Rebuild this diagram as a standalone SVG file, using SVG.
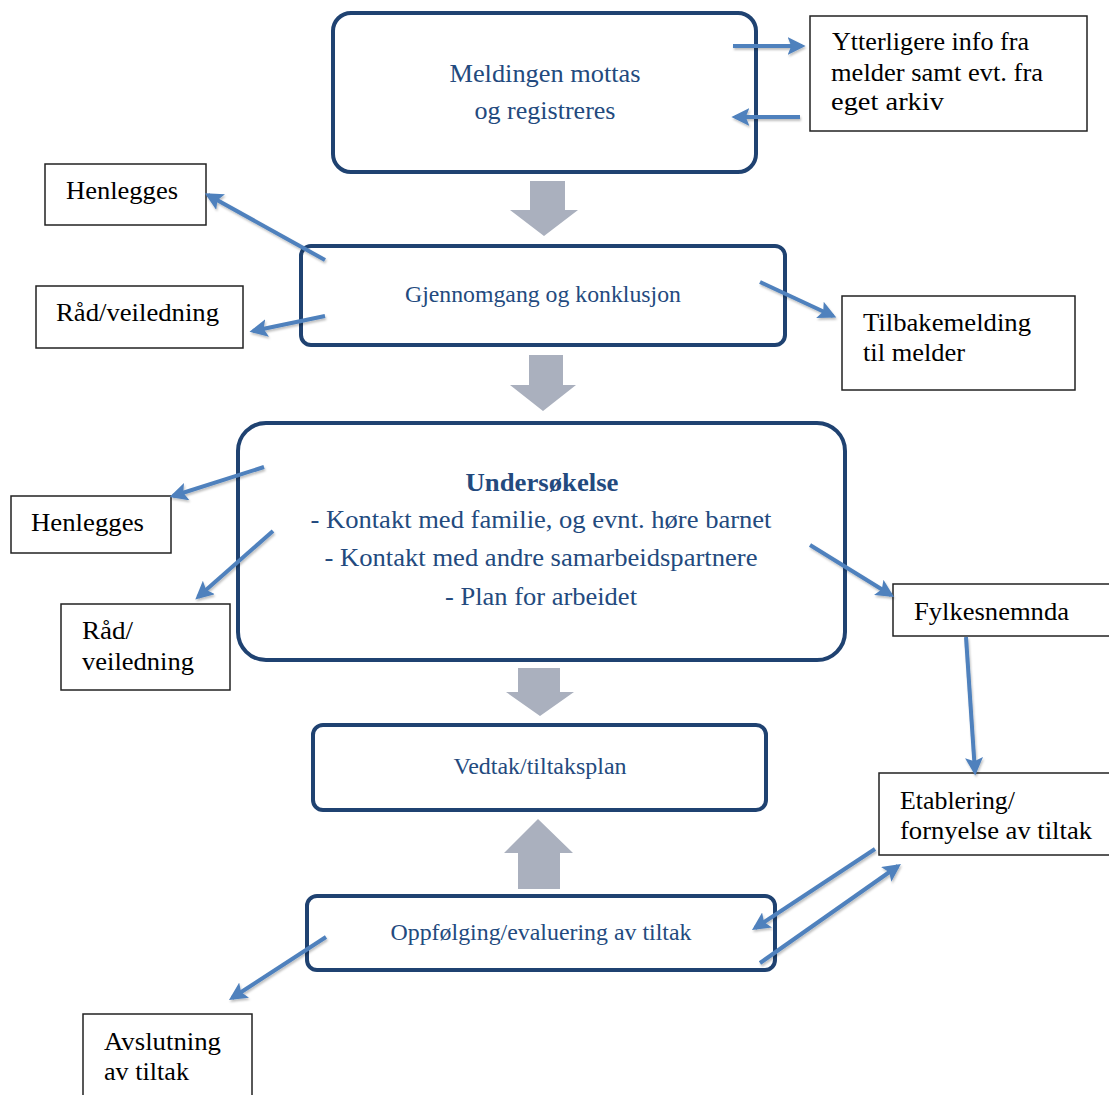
<svg xmlns="http://www.w3.org/2000/svg" width="1109" height="1095" viewBox="0 0 1109 1095">
<defs>
<style>
.main{fill:#fff;stroke:#1f4271;stroke-width:4}
.side{fill:#fff;stroke:#222;stroke-width:1.5}
text{font-family:"Liberation Serif","Tinos","Times New Roman","Noto Serif","DejaVu Serif","FreeSerif",serif}
.mt{fill:#234a7e;text-anchor:middle}
.st{fill:#000;font-size:26px}
.con{stroke:#4f81bd;stroke-width:4;fill:none;marker-end:url(#ah);filter:url(#sh)}
.gray{fill:#aab0be}
</style>
<marker id="ah" viewBox="0 0 10 10" refX="8" refY="5" markerWidth="4.5" markerHeight="4.5" orient="auto" markerUnits="strokeWidth">
<path d="M0,0 L10,5 L0,10 L2,5 z" fill="#4f81bd"/>
</marker>
<filter id="sh" filterUnits="userSpaceOnUse" x="0" y="0" width="1109" height="1095">
<feDropShadow dx="1" dy="2" stdDeviation="1.2" flood-color="#000" flood-opacity="0.25"/>
</filter>
</defs>

<g id="n1">
<rect class="main" x="333" y="13" width="423" height="159" rx="18"/>
<text class="mt" x="545" y="82" font-size="26" textLength="191" lengthAdjust="spacingAndGlyphs">Meldingen mottas</text>
<text class="mt" x="545" y="119" font-size="26" textLength="141" lengthAdjust="spacingAndGlyphs">og registreres</text>
</g>
<g id="n2">
<rect class="main" x="301" y="246" width="484" height="99" rx="10"/>
<text class="mt" x="543" y="302" font-size="23" textLength="276" lengthAdjust="spacingAndGlyphs">Gjennomgang  og konklusjon</text>
</g>
<g id="n3">
<rect class="main" x="238" y="423" width="607" height="237" rx="28"/>
<text class="mt" x="542" y="491" font-size="25" font-weight="bold" textLength="153" lengthAdjust="spacingAndGlyphs">Undersøkelse</text>
<text class="mt" x="541" y="528" font-size="26" textLength="461" lengthAdjust="spacingAndGlyphs">- Kontakt med familie, og evnt. høre barnet</text>
<text class="mt" x="541" y="566" font-size="26" textLength="433" lengthAdjust="spacingAndGlyphs">- Kontakt med andre samarbeidspartnere</text>
<text class="mt" x="541" y="605" font-size="26" textLength="192" lengthAdjust="spacingAndGlyphs">- Plan for arbeidet</text>
</g>
<g id="n4">
<rect class="main" x="313" y="725" width="453" height="85" rx="10"/>
<text class="mt" x="540" y="774" font-size="23" textLength="173" lengthAdjust="spacingAndGlyphs">Vedtak/tiltaksplan</text>
</g>
<g id="n5">
<rect class="main" x="307" y="896" width="468" height="74" rx="10"/>
<text class="mt" x="541" y="940" font-size="23" textLength="301" lengthAdjust="spacingAndGlyphs">Oppfølging/evaluering  av tiltak</text>
</g>

<g id="s1">
<rect class="side" x="810" y="16" width="277" height="115"/>
<text class="st" x="832" y="50" textLength="197" lengthAdjust="spacingAndGlyphs">Ytterligere info fra</text>
<text class="st" x="831" y="81" textLength="212" lengthAdjust="spacingAndGlyphs">melder samt evt. fra</text>
<text class="st" x="831" y="110" textLength="113" lengthAdjust="spacingAndGlyphs">eget arkiv</text>
</g>
<g id="s2">
<rect class="side" x="45" y="164" width="161" height="61"/>
<text class="st" x="66" y="199" textLength="112" lengthAdjust="spacingAndGlyphs">Henlegges</text>
</g>
<g id="s3">
<rect class="side" x="36" y="286" width="207" height="62"/>
<text class="st" x="56" y="321" textLength="163" lengthAdjust="spacingAndGlyphs">Råd/veiledning</text>
</g>
<g id="s4">
<rect class="side" x="842" y="296" width="233" height="94"/>
<text class="st" x="863" y="331" textLength="168" lengthAdjust="spacingAndGlyphs">Tilbakemelding</text>
<text class="st" x="863" y="361" textLength="102" lengthAdjust="spacingAndGlyphs">til melder</text>
</g>
<g id="s5">
<rect class="side" x="11" y="496" width="160" height="57"/>
<text class="st" x="31" y="531" textLength="113" lengthAdjust="spacingAndGlyphs">Henlegges</text>
</g>
<g id="s6">
<rect class="side" x="61" y="604" width="169" height="86"/>
<text class="st" x="82" y="639" textLength="51" lengthAdjust="spacingAndGlyphs">Råd/</text>
<text class="st" x="82" y="670" textLength="112" lengthAdjust="spacingAndGlyphs">veiledning</text>
</g>
<g id="s7">
<rect class="side" x="893" y="584" width="220" height="52"/>
<text class="st" x="914" y="620" textLength="155" lengthAdjust="spacingAndGlyphs">Fylkesnemnda</text>
</g>
<g id="s8">
<rect class="side" x="879" y="773" width="234" height="82"/>
<text class="st" x="900" y="809" textLength="115" lengthAdjust="spacingAndGlyphs">Etablering/</text>
<text class="st" x="900" y="839" textLength="192" lengthAdjust="spacingAndGlyphs">fornyelse av tiltak</text>
</g>
<g id="s9">
<rect class="side" x="83" y="1014" width="169" height="90"/>
<text class="st" x="104" y="1050" textLength="117" lengthAdjust="spacingAndGlyphs">Avslutning</text>
<text class="st" x="104" y="1080" textLength="85" lengthAdjust="spacingAndGlyphs">av tiltak</text>
</g>

<g id="connectors">
<path class="gray" d="M530,181 H565 V210 H578 L544,236 L510,210 H530 Z"/>
<path class="gray" d="M529,355 H563 V385 H576 L543,411 L510,385 H529 Z"/>
<path class="gray" d="M518,668 H560 V692 H574 L540,716 L506,692 H518 Z"/>
<path class="gray" d="M518,889 H560 V853 H573 L538,819 L504,853 H518 Z"/>
<line class="con" x1="733" y1="46" x2="802" y2="46"/>
<line class="con" x1="800" y1="117" x2="735" y2="117"/>
<line class="con" x1="325" y1="260" x2="208" y2="195"/>
<line class="con" x1="325" y1="316" x2="253" y2="331"/>
<line class="con" x1="760" y1="282" x2="833" y2="316"/>
<line class="con" x1="264" y1="467" x2="173" y2="496"/>
<line class="con" x1="273" y1="531" x2="198" y2="597"/>
<line class="con" x1="810" y1="545" x2="891" y2="595"/>
<line class="con" x1="966" y1="637" x2="975" y2="772"/>
<line class="con" x1="875" y1="849" x2="755" y2="928"/>
<line class="con" x1="760" y1="963" x2="898" y2="866"/>
<line class="con" x1="326" y1="937" x2="232" y2="998"/>
</g>
</svg>
